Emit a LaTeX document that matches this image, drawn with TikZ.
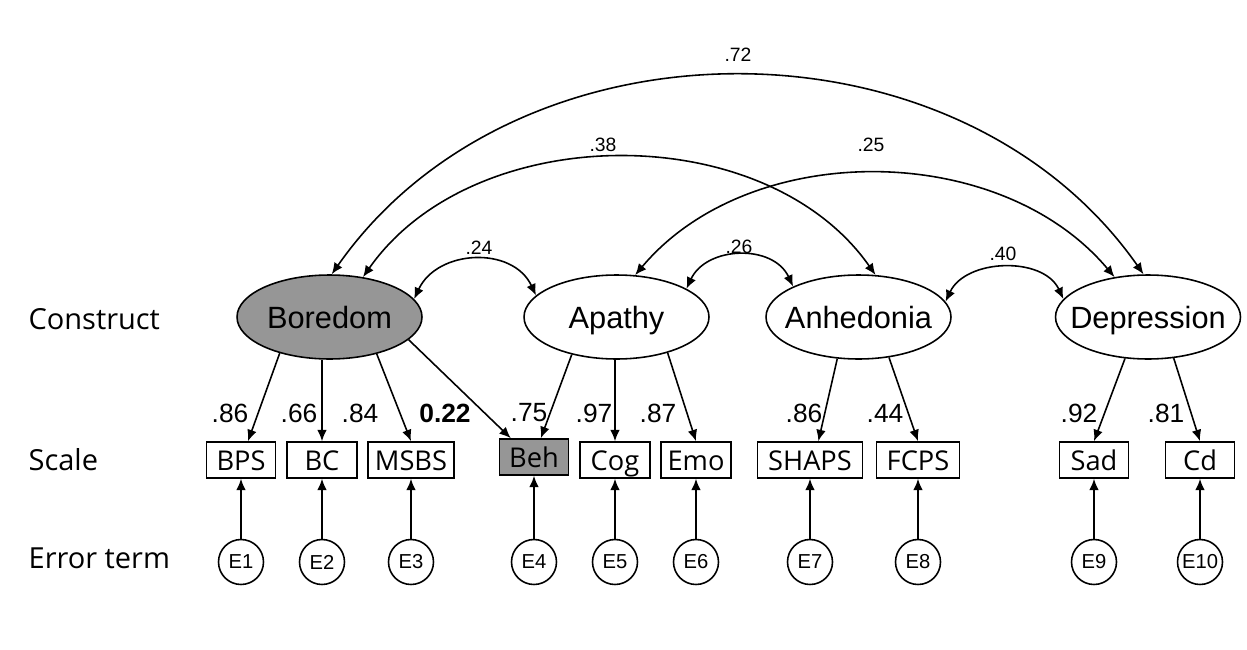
\documentclass[tikz,border=0pt]{standalone}
\usepackage{fontspec}
\setmainfont{Liberation Sans}
\newfontfamily\segoe{Open Sans}
\usetikzlibrary{arrows.meta, shapes.geometric}
\definecolor{grisfonce}{RGB}{150,150,150}

\begin{document}
\begin{tikzpicture}[x=0.02cm, y=-0.02cm, line width=0.9pt]
\tikzset{latnoeud/.style={draw, ellipse, minimum width=3.7cm, minimum height=1.68cm, inner sep=0pt, text height=14.5pt, text depth=1.5pt, font=\fontsize{17.5}{20}\selectfont},
obsnoeud/.style={draw, rectangle, minimum width=1.38cm, minimum height=0.72cm, inner sep=1pt, text height=13.5pt, text depth=1.5pt, font=\segoe\fontsize{15.5}{18}\selectfont},
errnoeud/.style={draw, circle, minimum size=0.9cm, inner sep=0pt, font=\fontsize{11.5}{13}\selectfont},
fl/.style={-{Latex[length=6.5pt,width=5.5pt]}},
cov/.style={{Latex[length=6.5pt,width=5.5pt]}-{Latex[length=6.5pt,width=5.5pt]}},
poids/.style={font=\fontsize{15}{18}\selectfont},
corr/.style={font=\fontsize{11}{13}\selectfont},
rangee/.style={anchor=west, font=\segoe\fontsize{16.5}{20}\selectfont}}
\useasboundingbox (0,0) rectangle (1247,649);
% rows
\node[rangee] (R1) at (22,319) {Construct};
\node[rangee] (R2) at (22,460) {Scale};
\node[rangee] (R3) at (22,558) {Error term};
% constructs
\node[latnoeud, fill=grisfonce] (L1) at (329.5,317) {\makebox[0pt]{Boredom}};
\node[latnoeud] (L2) at (616.5,317) {\makebox[0pt]{Apathy}};
\node[latnoeud] (L3) at (858.5,317) {\makebox[0pt]{Anhedonia}};
\node[latnoeud] (L4) at (1148,317) {\makebox[0pt]{Depression}};
% scales
\node[obsnoeud] (S1) at (241,460) {BPS};
\node[obsnoeud, minimum width=1.4cm] (S2) at (322,460) {BC};
\node[obsnoeud, minimum width=1.72cm] (S3) at (411,460) {MSBS};
\node[obsnoeud, fill=grisfonce] (S4) at (534,457) {Beh};
\node[obsnoeud, minimum width=1.4cm] (S5) at (615,460) {Cog};
\node[obsnoeud, minimum width=1.4cm] (S6) at (696,460) {Emo};
\node[obsnoeud, minimum width=2.1cm] (S7) at (810,460) {SHAPS};
\node[obsnoeud, minimum width=1.66cm] (S8) at (918,460) {FCPS};
\node[obsnoeud] (S9) at (1094,460) {Sad};
\node[obsnoeud] (S10) at (1200,460) {Cd};
% error terms
\node[errnoeud] (E1) at (241,562) {E1};
\node[errnoeud] (E2) at (322,562) {E2};
\node[errnoeud] (E3) at (411,562) {E3};
\node[errnoeud] (E4) at (534,562) {E4};
\node[errnoeud] (E5) at (615,562) {E5};
\node[errnoeud] (E6) at (696,562) {E6};
\node[errnoeud] (E7) at (810,562) {E7};
\node[errnoeud] (E8) at (918,562) {E8};
\node[errnoeud] (E9) at (1094,562) {E9};
\node[errnoeud] (E10) at (1200,562) {E10};
\draw[fl] (E1) -- (S1);
\draw[fl] (E2) -- (S2);
\draw[fl] (E3) -- (S3);
\draw[fl] (E4) -- (S4);
\draw[fl] (E5) -- (S5);
\draw[fl] (E6) -- (S6);
\draw[fl] (E7) -- (S7);
\draw[fl] (E8) -- (S8);
\draw[fl] (E9) -- (S9);
\draw[fl] (E10) -- (S10);
% loadings
\draw[fl] (L1.216) -- ([xshift=7*0.02cm]S1.north);
\draw[fl] (S2.north |- L1.south) -- (S2.north);
\draw[fl] (L1.322) -- (S3.north);
\draw[fl] (L1.344) -- (S4.141);
\draw[fl] (L2.220) -- (S4.70);
\draw[fl] (S5.north |- L2.south) -- (S5.north);
\draw[fl] (L2.325) -- (S6.north);
\draw[fl] (L3.243) -- (S7.66);
\draw[fl] (L3.307) -- (S8.north);
\draw[fl] (L4.241) -- (S9.north);
\draw[fl] (L4.302) -- (S10.north);
\node[poids] (P1) at (230,413) {.86};
\node[poids] (P2) at (299,413) {.66};
\node[poids] (P3) at (360,413) {.84};
\node[poids, font=\fontsize{15}{18}\selectfont\bfseries] (P4) at (445,413) {0.22};
\node[poids] (P5) at (529,413) {.75};
\node[poids] (P6) at (594,413) {.97};
\node[poids] (P7) at (658,413) {.87};
\node[poids] (P8) at (804,413) {.86};
\node[poids] (P9) at (885,413) {.44};
\node[poids] (P10) at (1079,413) {.92};
\node[poids] (P11) at (1166,413) {.81};
% correlations
\draw[cov] (L1.12) to[out=65, in=115, looseness=1.15] (L2.165);
\draw[cov] (L2.22) to[out=65, in=115, looseness=1.13] (L3.155);
\draw[cov] (L3.10) to[out=65, in=115, looseness=1.03] (L4.168);
\draw[cov] (L1.50) to[out=55, in=125, looseness=0.96] (L3.68);
\draw[cov] (L2.66) to[out=50, in=130, looseness=0.95] (L4.130);
\draw[cov] (L1.87) to[out=55, in=125, looseness=1.02] (L4.96);
\node[corr] (C1) at (479,248) {.24};
\node[corr] (C2) at (739,247) {.26};
\node[corr] (C3) at (1003,254) {.40};
\node[corr] (C4) at (603,145) {.38};
\node[corr] (C5) at (871,145) {.25};
\node[corr] (C6) at (738,55) {.72};
\end{tikzpicture}
\end{document}
